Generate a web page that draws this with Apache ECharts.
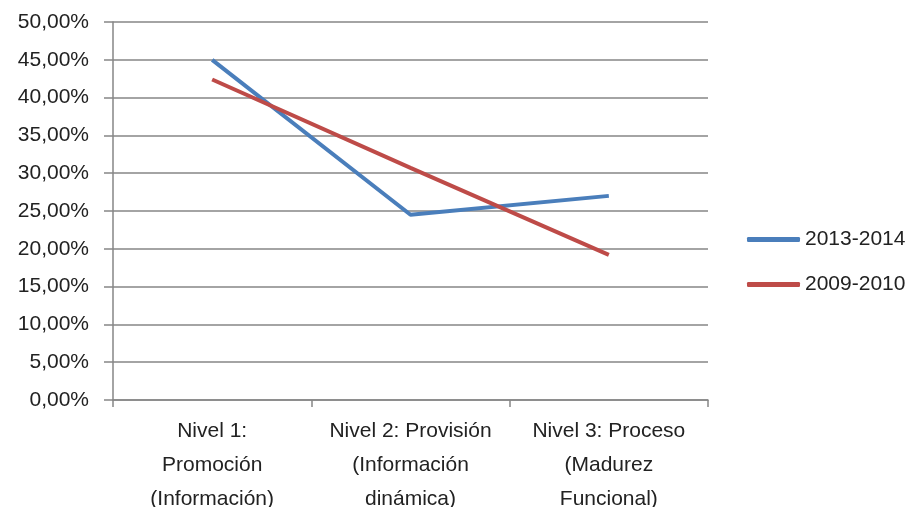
<!DOCTYPE html>
<html>
<head>
<meta charset="utf-8">
<script src="https://cdn.jsdelivr.net/npm/echarts@6/dist/echarts.min.js"></script>
<style>html,body{margin:0;padding:0;background:#fff}#c{width:912px;height:507px}</style>
</head>
<body>
<div id="c"></div>
<script>
var categories = ["Nivel 1:\nPromoción\n(Información)", "Nivel 2: Provisión\n(Información\ndinámica)", "Nivel 3: Proceso\n(Madurez\nFuncional)"];
var serie2013 = [45.0, 24.5, 27.0];
var serie2009 = [42.4, 30.7, 19.2];
var seriesNames = ["2013-2014", "2009-2010"];

var chart = echarts.init(document.getElementById('c'));
var font = 'Liberation Sans';
chart.setOption({
  animation: false,
  backgroundColor: '#fff',
  grid: {left: 113, right: 204, top: 22, bottom: 107, containLabel: false, outerBoundsMode: 'none'},
  legend: {
    orient: 'vertical', left: 742, top: 224,
    icon: 'roundRect',
    itemWidth: 53, itemHeight: 5, itemGap: 24,
    textStyle: {fontFamily: font, fontSize: 21, color: '#222'},
    data: seriesNames
  },
  xAxis: {
    type: 'category', data: categories, boundaryGap: true,
    axisLine: {lineStyle: {color: '#868686', width: 1.5}},
    axisTick: {show: true, length: 7, lineStyle: {color: '#868686', width: 1.5}},
    axisLabel: {fontFamily: font, fontSize: 21, color: '#222', lineHeight: 34, margin: 14, interval: 0}
  },
  yAxis: {
    type: 'value', min: 0, max: 50, interval: 5,
    axisLine: {show: true, lineStyle: {color: '#868686', width: 1.5}},
    axisTick: {show: true, inside: false, length: 9, lineStyle: {color: '#868686', width: 1.5}},
    splitLine: {lineStyle: {color: '#868686', width: 1.5}},
    axisLabel: {fontFamily: font, fontSize: 21, color: '#222', margin: 24,
      formatter: function (v) { return v.toFixed(2).replace('.', ',') + '%'; }}
  },
  series: [
    {name: seriesNames[0], type: 'line', data: serie2013, symbol: 'none',
     lineStyle: {color: '#4A7EBB', width: 4}, itemStyle: {color: '#4A7EBB'}},
    {name: seriesNames[1], type: 'line', data: serie2009, symbol: 'none',
     lineStyle: {color: '#BE4B48', width: 4}, itemStyle: {color: '#BE4B48'}}
  ]
});
</script>
</body>
</html>
